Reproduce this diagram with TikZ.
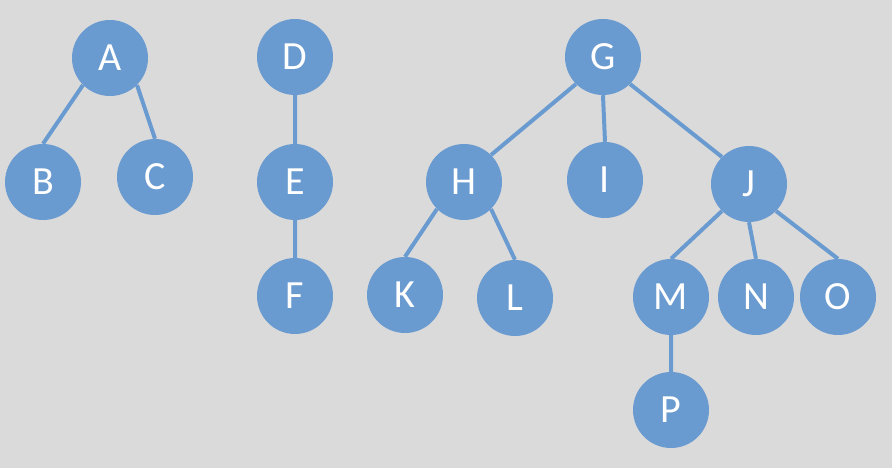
\documentclass[tikz,border=0pt]{standalone}
\usepackage{fontspec}
\setmainfont{Carlito}
\definecolor{bgc}{HTML}{DADADA}
\definecolor{nodec}{HTML}{6A9BD0}
\begin{document}
\begin{tikzpicture}[x=1pt,y=-1pt,
  tnode/.style={circle,fill=nodec,draw=none,minimum size=76pt,inner sep=0pt,
    text=white,font=\fontsize{40}{40}\selectfont},
  edge/.style={draw=nodec,line width=4pt}]
\fill[bgc] (0,0) rectangle (892,468);
\useasboundingbox (0,0) rectangle (892,468);
\node[tnode] (A) at (110,58) {A};
\node[tnode] (B) at (43,182) {B};
\node[tnode] (C) at (155,177) {C};
\node[tnode] (D) at (295,57) {D};
\node[tnode] (E) at (295,182) {E};
\node[tnode] (F) at (295,296) {F};
\node[tnode] (G) at (603,57) {G};
\node[tnode] (H) at (464,182) {H};
\node[tnode] (I) at (605,180) {I};
\node[tnode] (J) at (749,184) {J};
\node[tnode] (K) at (405,295) {K};
\node[tnode] (L) at (515,298) {L};
\node[tnode] (M) at (671,297) {M};
\node[tnode] (N) at (756,297) {N};
\node[tnode] (O) at (838,297) {O};
\node[tnode] (P) at (671,410) {P};
\path[edge] (A.225) -- (B.north) (A.-45) -- (C.north)
  (D.south) -- (E.north) (E.south) -- (F.north)
  (G.225) -- (H.45) (G.south) -- (I.north) (G.-45) -- (J.135)
  (H.225) -- (K.north) (H.-45) -- (L.north)
  (J.225) -- (M.north) (J.south) -- (N.north) (J.-45) -- (O.north)
  (M.south) -- (P.north);
\end{tikzpicture}
\end{document}
